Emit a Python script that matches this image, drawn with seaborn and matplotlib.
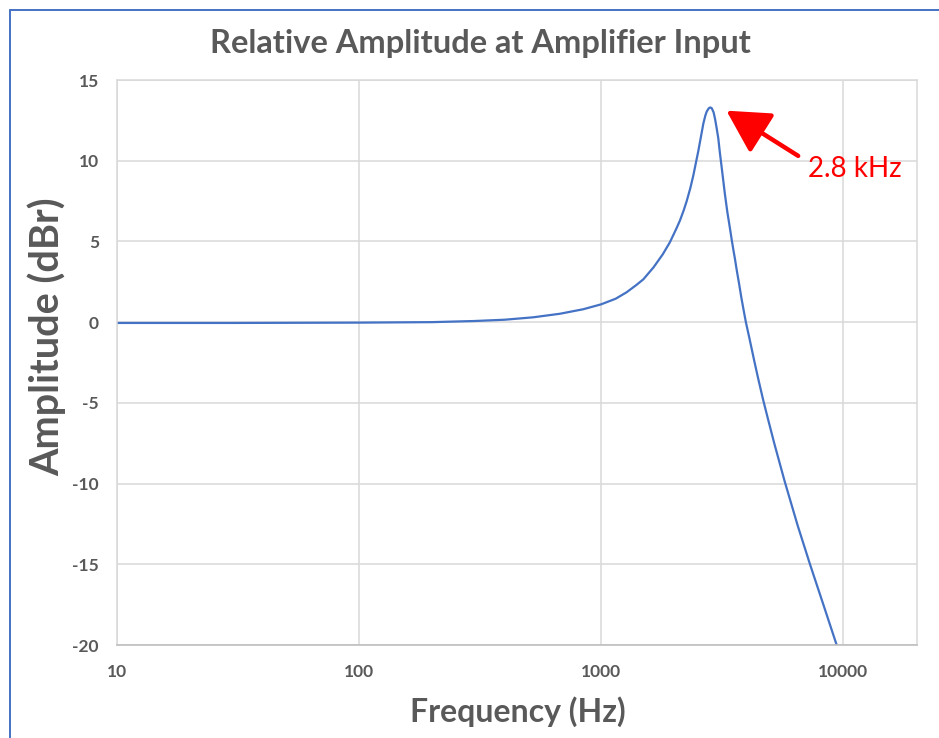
"""
Relative amplitude at amplifier input -- resonance peak near 2.8 kHz
"""

import matplotlib
matplotlib.use("Agg")
import matplotlib.pyplot as plt
from matplotlib.lines import Line2D
from matplotlib.ticker import FixedLocator, NullLocator
import seaborn as sns

sns.set_theme(style="white")
plt.rcParams["font.family"] = ["Lato", "DejaVu Sans"]

# ---------------------------------------------------------------------------
# data
# ---------------------------------------------------------------------------
freq_hz = [10, 30, 100, 200, 300, 400, 525, 677, 845, 1000, 1150, 1276, 1400,
           1496, 1650, 1800, 1927, 2050, 2121, 2200, 2261, 2340, 2409, 2470,
           2525, 2590, 2649, 2700, 2736, 2790, 2830, 2870, 2920, 2960, 3000,
           3053, 3100, 3153, 3200, 3254, 3330, 3413, 3470, 3523, 3580, 3637,
           3720, 3800, 3880, 3970, 4100, 4300, 4480, 4677, 4900, 5200, 5740,
           6500, 7308, 8300, 9420]
amp_dbr = [-0.05, -0.05, -0.03, 0.0, 0.07, 0.15, 0.3, 0.52, 0.8, 1.1, 1.45,
           1.85, 2.3, 2.65, 3.4, 4.2, 4.95, 5.8, 6.3, 6.95, 7.5, 8.3, 9.1, 9.9,
           10.6, 11.5, 12.3, 12.8, 13.05, 13.25, 13.3, 13.25, 13.0, 12.6, 12.1,
           11.4, 10.5, 9.6, 8.8, 7.9, 6.8, 5.8, 5.1, 4.5, 3.9, 3.25,
           2.4, 1.55, 0.8, 0.0, -0.95, -2.4, -3.6, -4.8, -6.0, -7.5, -9.85,
           -12.6, -15.0, -17.5, -20.0]

x_ticks = [10, 100, 1000, 10000]
x_tick_labels = ["10", "100", "1000", "10000"]
y_ticks = [15, 10, 5, 0, -5, -10, -15, -20]

peak_label = "2.8 kHz"

GREY = "#595959"
GRID = "#D9D9D9"
BLUE = "#4472C4"

fig = plt.figure(figsize=(9.39, 7.38), dpi=100)
ax = fig.add_axes([117 / 939, 1 - 645 / 738, 800 / 939, 565 / 738])

sns.lineplot(x=freq_hz, y=amp_dbr, ax=ax, color=BLUE, linewidth=1.6)

ax.set_xscale("log")
ax.set_xlim(10, 20230)
ax.set_ylim(-20, 15)
ax.xaxis.set_major_locator(FixedLocator(x_ticks))
ax.xaxis.set_minor_locator(NullLocator())
ax.set_xticklabels(x_tick_labels)
ax.set_yticks(y_ticks)
ax.set_yticklabels([str(v) for v in y_ticks])

ax.grid(True, color=GRID, linewidth=1.1)
ax.set_axisbelow(True)
for side in ["left", "top", "right"]:
    ax.spines[side].set_color(GRID)
    ax.spines[side].set_linewidth(1.1)
ax.spines["bottom"].set_color("#BFBFBF")
ax.spines["bottom"].set_linewidth(1.2)

ax.tick_params(axis="both", length=0, labelsize=12.5, labelcolor=GREY)
ax.tick_params(axis="y", pad=13)
ax.tick_params(axis="x", pad=14)
for lbl in ax.get_xticklabels() + ax.get_yticklabels():
    lbl.set_fontweight("bold")

ax.set_xlabel("")
ax.set_ylabel("")
fig.text(518 / 939, 1 - 712 / 738, "Frequency (Hz)", ha="center", va="center",
         fontsize=23, fontweight="bold", color=GREY)
fig.text(47 / 939, 1 - 337 / 738, "Amplitude (dBr)", ha="center", va="center",
         rotation=90, fontsize=28.5, fontweight="bold", color=GREY)
fig.text(480 / 939, 1 - 44 / 738, "Relative Amplitude at Amplifier Input",
         ha="center", va="center", fontsize=23.5, fontweight="bold", color=GREY)

# red arrow + label pointing at the peak
ax.annotate("", xy=(3300, 13.1), xytext=(6530, 10.3),
            arrowprops=dict(arrowstyle="-|>,head_length=1.0,head_width=0.55",
                            color="red", lw=3.2, mutation_scale=26,
                            shrinkA=0, shrinkB=0))
ax.text(11210, 9.5, peak_label, color="red", fontsize=20,
        ha="center", va="center")

# chart-area frame (cut off at right and bottom, as in the screenshot)
fig.add_artist(Line2D([10 / 939, 1.02], [1 - 10 / 738] * 2,
                      transform=fig.transFigure, color=BLUE, lw=1.4))
fig.add_artist(Line2D([10 / 939] * 2, [-0.02, 1 - 10 / 738],
                      transform=fig.transFigure, color=BLUE, lw=1.4))

plt.savefig("out.png", dpi=100, facecolor="white")
plt.close()
